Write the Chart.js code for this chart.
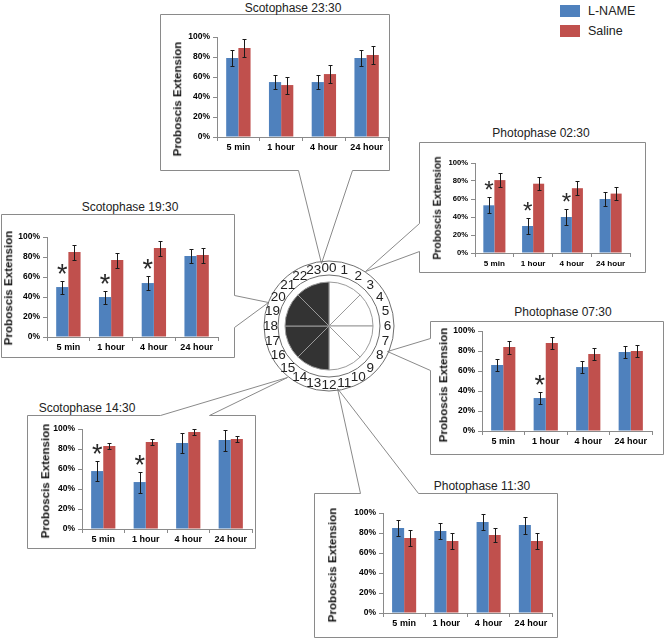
<!DOCTYPE html>
<html><head><meta charset="utf-8">
<script src="https://cdn.jsdelivr.net/npm/chart.js@4.4.1/dist/chart.umd.min.js"></script>
<style>
html,body{margin:0;padding:0;background:#fff;}
body{width:669px;height:640px;position:relative;overflow:hidden;font-family:"Liberation Sans",Arial,sans-serif;}
.title{position:absolute;font-size:12px;line-height:1;color:#222;white-space:nowrap;transform:translate(-50%,-50%);}
.ytitle{position:absolute;line-height:1;color:#111;font-weight:bold;white-space:nowrap;transform:translate(-50%,-50%) rotate(-90deg);}
.leg{position:absolute;font-size:12.5px;line-height:1;color:#222;white-space:nowrap;}
.sw{position:absolute;width:20px;height:12px;}
canvas{position:absolute;}
svg{position:absolute;left:0;top:0;}
</style></head><body>
<svg id="frames" width="669" height="640"></svg>
<script>
// ---------- DATA ----------
const categories = ['5 min', '1 hour', '4 hour', '24 hour'];
const seriesNames = ['L-NAME', 'Saline'];
const yTickLabels = ['0%', '20%', '40%', '60%', '80%', '100%'];
const panelTitles = ['Scotophase 23:30', 'Photophase 02:30', 'Scotophase 19:30', 'Photophase 07:30', 'Scotophase 14:30', 'Photophase 11:30'];
const yAxisTitle = 'Proboscis Extension';

const lname_2330 = [79, 55, 55, 79];
const lnameErr_2330 = [8, 7, 7, 8];
const saline_2330 = [89, 52, 63, 82];
const salineErr_2330 = [9, 8.5, 9, 9];
const sig_2330 = [0, 0, 0, 0];

const lname_0230 = [53, 30, 40, 60];
const lnameErr_0230 = [9, 8.5, 8.5, 8];
const saline_0230 = [81, 77, 72, 66];
const salineErr_0230 = [8, 7.5, 7.5, 7.5];
const sig_0230 = [1, 1, 1, 0];

const lname_1930 = [50, 40, 54, 81];
const lnameErr_1930 = [6.5, 6.5, 7, 7];
const saline_1930 = [85, 77, 89, 82];
const salineErr_1930 = [7.5, 7.5, 7.5, 7.5];
const sig_1930 = [1, 1, 1, 0];

const lname_0730 = [66, 33, 64, 79];
const lnameErr_0730 = [6, 6, 6, 6];
const saline_0730 = [84, 88, 77, 80];
const salineErr_0730 = [6.5, 6, 6, 6];
const sig_0730 = [0, 1, 0, 0];

const lname_1430 = [58, 47, 86, 89];
const lnameErr_1430 = [10, 10.5, 10, 10.5];
const saline_1430 = [83, 87, 97, 90];
const salineErr_1430 = [3, 3, 3, 3];
const sig_1430 = [1, 1, 0, 0];

const lname_1130 = [85, 82, 91, 88];
const lnameErr_1130 = [8, 8, 8, 8.5];
const saline_1130 = [75, 72, 78, 72];
const salineErr_1130 = [8, 8, 7, 8];
const sig_1130 = [0, 0, 0, 0];

const clockSlices = [1, 1, 1, 1, 1, 1, 1, 1];
const clockShade = ['light', 'light', 'light', 'light', 'dark', 'dark', 'dark', 'dark'];
const clockHours = ['00','1','2','3','4','5','6','7','8','9','10','11','12','13','14','15','16','17','18','19','20','21','22','23'];

// ---------- LAYOUT ----------
const FONT = '"Liberation Sans", Arial, sans-serif';
const BLUE = '#4F81BD', RED = '#C0504D';
const panels = [
  {t:0, L:lname_2330, Le:lnameErr_2330, S:saline_2330, Se:salineErr_2330, sig:sig_2330,
   plot:[217,388,37,137], tp:[293,8], yp:[177,99], s:1},
  {t:1, L:lname_0230, Le:lnameErr_0230, S:saline_0230, Se:salineErr_0230, sig:sig_0230,
   plot:[475,630,163,253], tp:[541,133], yp:[438,208], s:0.9},
  {t:2, L:lname_1930, Le:lnameErr_1930, S:saline_1930, Se:salineErr_1930, sig:sig_1930,
   plot:[47,218,237,337], tp:[130,207], yp:[8,288], s:1},
  {t:3, L:lname_0730, Le:lnameErr_0730, S:saline_0730, Se:salineErr_0730, sig:sig_0730,
   plot:[482,652,331,431], tp:[563,312], yp:[443,385], s:1},
  {t:4, L:lname_1430, Le:lnameErr_1430, S:saline_1430, Se:salineErr_1430, sig:sig_1430,
   plot:[82,252,429,529], tp:[87,408], yp:[45,481], s:1},
  {t:5, L:lname_1130, Le:lnameErr_1130, S:saline_1130, Se:salineErr_1130, sig:sig_1130,
   plot:[383,552,513,613], tp:[482,486], yp:[332,565], s:1}
];
const frames = [
  [[160,14],[389,14],[389,170],[352,170],[321,263],[298,170],[160,170]],
  [[419,142],[645,142],[645,272],[419,272],[419,251],[365,271],[419,223]],
  [[1,214],[234,214],[234,295],[268,302],[234,327],[234,357],[1,357]],
  [[430,321],[663,321],[663,454],[430,454],[430,370],[387,351],[430,338]],
  [[27,415],[160,415],[287,377],[209,415],[255,415],[255,548],[27,548]],
  [[314,493],[360,493],[337,388],[418,493],[557,493],[557,637],[314,637]]
];

const svg = document.getElementById('frames');
frames.forEach(pts => {
  const pg = document.createElementNS('http://www.w3.org/2000/svg', 'polygon');
  pg.setAttribute('points', pts.map(p => (p[0]+0.5)+','+(p[1]+0.5)).join(' '));
  pg.setAttribute('fill', 'none');
  pg.setAttribute('stroke', '#8a8a8a');
  pg.setAttribute('stroke-width', '1');
  svg.appendChild(pg);
});

function addDiv(cls, text, x, y, extra) {
  const d = document.createElement('div');
  d.className = cls; d.textContent = text;
  d.style.left = x + 'px'; d.style.top = y + 'px';
  if (extra) Object.assign(d.style, extra);
  document.body.appendChild(d);
  return d;
}

const errPlugin = {
  id: 'errbars',
  afterDatasetsDraw(chart) {
    const ctx = chart.ctx, ys = chart.scales.y;
    const s = chart.$s || 1;
    ctx.save();
    ctx.strokeStyle = '#1a1a1a'; ctx.lineWidth = 1;
    chart.data.datasets.forEach((ds, di) => {
      const meta = chart.getDatasetMeta(di);
      meta.data.forEach((bar, i) => {
        const v = ds.data[i], e = ds.err[i];
        const x = Math.round(bar.x) + 0.5;
        const yt = Math.round(ys.getPixelForValue(v + e)) + 0.5;
        const yb = Math.round(ys.getPixelForValue(v - e)) + 0.5;
        ctx.beginPath();
        ctx.moveTo(x, yt); ctx.lineTo(x, yb);
        ctx.moveTo(x - 2, yt); ctx.lineTo(x + 2, yt);
        ctx.moveTo(x - 2, yb); ctx.lineTo(x + 2, yb);
        ctx.stroke();
        if (ds.sig && ds.sig[i]) {
          ctx.fillStyle = '#2a2a2a';
          ctx.font = (27 * s) + 'px ' + FONT;
          ctx.textAlign = 'center'; ctx.textBaseline = 'alphabetic';
          const m = ctx.measureText('*');
          const cy = yt - 13 * s;
          const base = cy + (m.actualBoundingBoxAscent - m.actualBoundingBoxDescent) / 2;
          ctx.fillText('*', bar.x, base);
        }
      });
    });
    ctx.restore();
  }
};

panels.forEach(p => {
  const s = p.s;
  const [x0, x1, yt, yb] = p.plot;
  const W = Math.round(45 * s), PT = 8, H = Math.round(22 * s), PR = 4;
  const cv = document.createElement('canvas');
  const cw = x1 - x0 + W + PR, ch = yb - yt + PT + H;
  cv.width = cw; cv.height = ch;
  cv.style.left = (x0 - W) + 'px'; cv.style.top = (yt - PT) + 'px';
  cv.style.width = cw + 'px'; cv.style.height = ch + 'px';
  document.body.appendChild(cv);
  addDiv('title', panelTitles[p.t], p.tp[0], p.tp[1]);
  addDiv('ytitle', yAxisTitle, p.yp[0], p.yp[1], {fontSize: (11.6 * s) + 'px'});
  new Chart(cv, {
    type: 'bar',
    data: {
      labels: categories,
      datasets: [
        {label: seriesNames[0], data: p.L, err: p.Le, sig: p.sig, backgroundColor: BLUE, borderWidth: 0},
        {label: seriesNames[1], data: p.S, err: p.Se, backgroundColor: RED, borderWidth: 0}
      ]
    },
    options: {
      responsive: false, animation: false, devicePixelRatio: 1,
      layout: {padding: {top: PT, right: PR, left: 0, bottom: 0}},
      plugins: {legend: {display: false}, tooltip: {enabled: false}},
      datasets: {bar: {categoryPercentage: 0.57, barPercentage: 1}},
      scales: {
        x: {
          grid: {display: true, drawOnChartArea: false, tickLength: 4, color: '#8a8a8a', offset: true},
          border: {color: '#8a8a8a'},
          ticks: {font: {family: FONT, size: 9 * s, weight: 'bold'}, color: '#000', padding: 1.5, maxRotation: 0, autoSkip: false},
          afterFit: sc => { sc.height = H; }
        },
        y: {
          min: 0, max: 100,
          grid: {drawOnChartArea: false, tickLength: 4, color: '#8a8a8a'},
          border: {color: '#8a8a8a'},
          ticks: {stepSize: 20, font: {family: FONT, size: 8.5 * s, weight: 'bold'}, color: '#000', padding: 3,
                  callback: (v, i) => yTickLabels[i]},
          afterFit: sc => { sc.width = W; }
        }
      }
    },
    plugins: [errPlugin, {id: 'scale', beforeInit(c) { c.$s = s; }}]
  });
});

// ---------- CLOCK ----------
const CX = 329, CY = 326;
const clockCv = document.createElement('canvas');
clockCv.width = 150; clockCv.height = 150;
clockCv.style.left = (CX - 75) + 'px'; clockCv.style.top = (CY - 75) + 'px';
clockCv.style.width = '150px'; clockCv.style.height = '150px';
document.body.appendChild(clockCv);
const clockPlugin = {
  id: 'clockRing',
  afterDraw(chart) {
    const ctx = chart.ctx;
    const arc = chart.getDatasetMeta(0).data[0];
    const cx = arc.x, cy = arc.y;
    ctx.save();
    ctx.strokeStyle = '#6f6f6f'; ctx.lineWidth = 1;
    [51, 65].forEach(r => { ctx.beginPath(); ctx.arc(cx, cy, r, 0, Math.PI * 2); ctx.stroke(); });
    ctx.fillStyle = '#222';
    ctx.font = '13.5px ' + FONT;
    ctx.textAlign = 'center'; ctx.textBaseline = 'middle';
    clockHours.forEach((h, i) => {
      const a = i / clockHours.length * Math.PI * 2;
      const r = 58.5;
      ctx.fillText(h, cx + r * Math.sin(a), cy - r * Math.cos(a) + 0.5);
    });
    ctx.restore();
  }
};
new Chart(clockCv, {
  type: 'pie',
  data: {
    labels: clockSlices.map((_, i) => 'sector ' + (i + 1)),
    datasets: [{
      data: clockSlices,
      backgroundColor: clockShade.map(c => c === 'dark' ? '#333333' : '#ffffff'),
      borderColor: '#9a9a9a', borderWidth: 1
    }]
  },
  options: {
    responsive: false, animation: false, devicePixelRatio: 1, radius: 44,
    layout: {padding: 0},
    plugins: {legend: {display: false}, tooltip: {enabled: false}}
  },
  plugins: [clockPlugin]
});

// ---------- LEGEND ----------
const sw1 = document.createElement('div'); sw1.className = 'sw';
Object.assign(sw1.style, {left: '560px', top: '5px', background: BLUE}); document.body.appendChild(sw1);
const sw2 = document.createElement('div'); sw2.className = 'sw';
Object.assign(sw2.style, {left: '560px', top: '25px', background: RED}); document.body.appendChild(sw2);
addDiv('leg', seriesNames[0], 588, 5);
addDiv('leg', seriesNames[1], 588, 25);
</script>
</body></html>
